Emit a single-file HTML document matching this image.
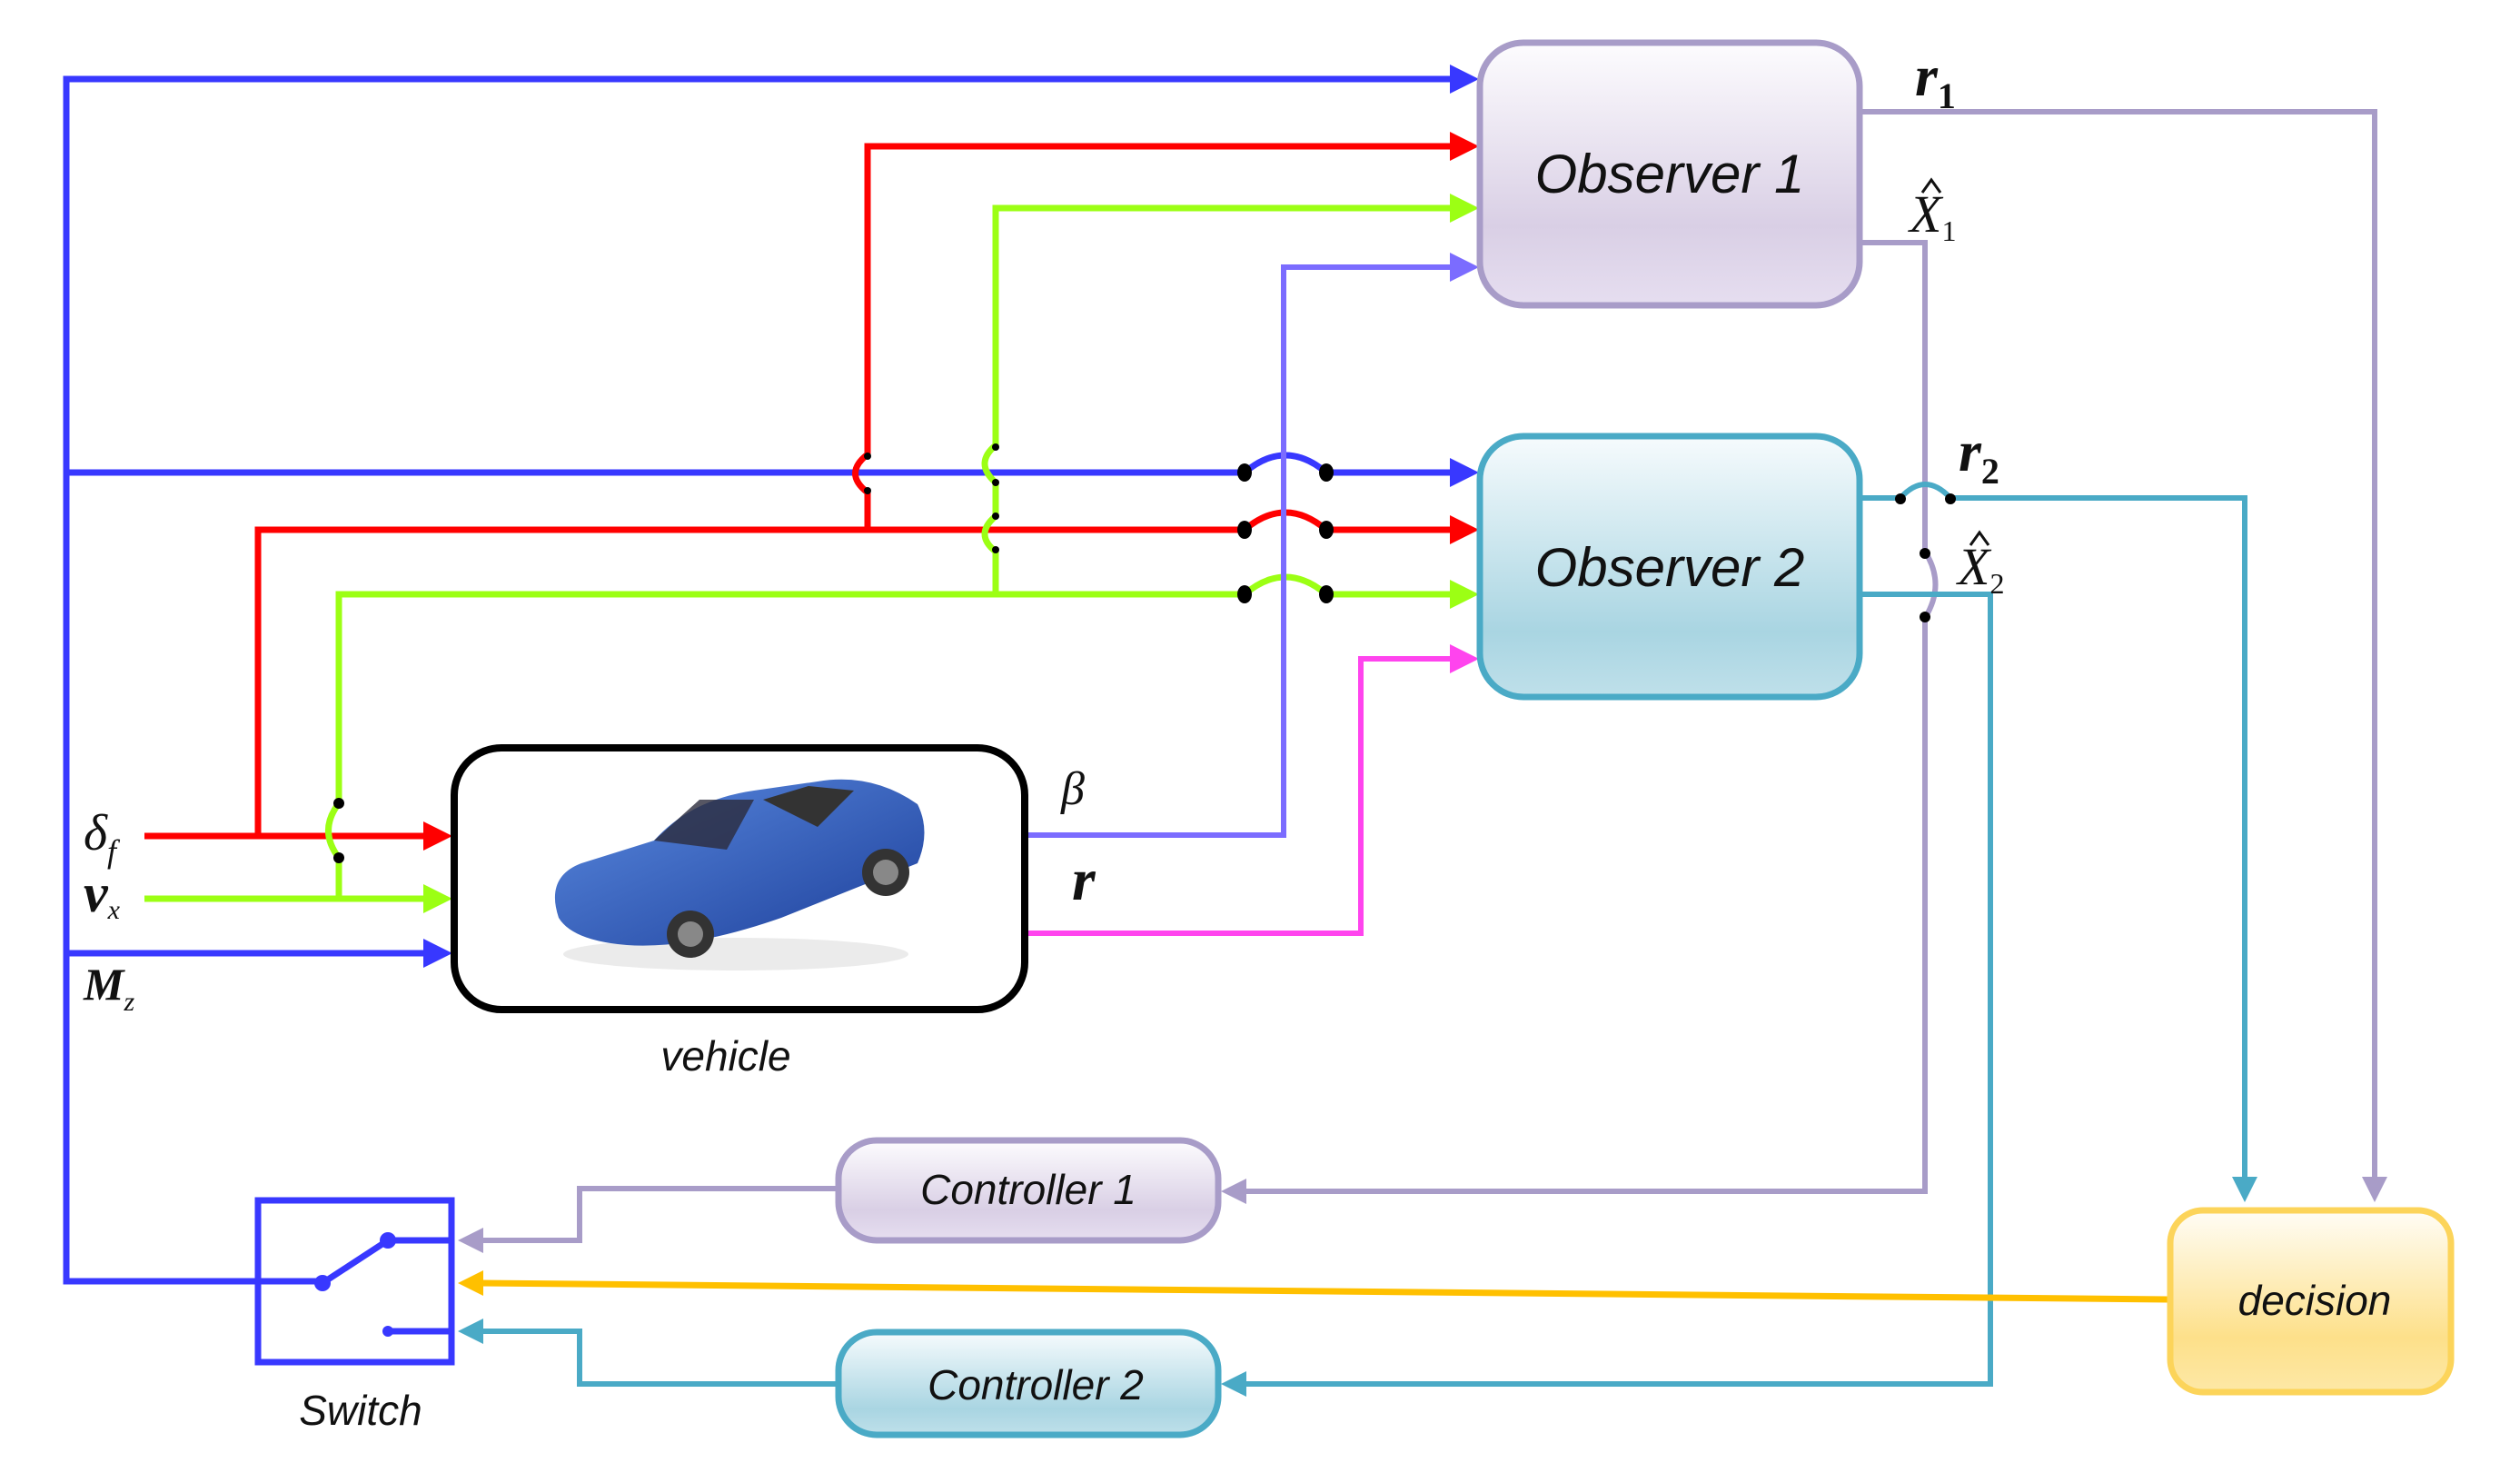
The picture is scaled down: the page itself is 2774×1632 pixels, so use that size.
<!DOCTYPE html>
<html><head><meta charset="utf-8"><style>
html,body{margin:0;padding:0;background:#fff;}
svg{display:block;}
.t{font-family:"Liberation Sans",sans-serif;font-style:italic;fill:#111;}
.m{font-family:"Liberation Serif",serif;font-style:italic;fill:#111;}
</style></head><body>
<svg width="2774" height="1632" viewBox="0 0 2774 1632" xmlns="http://www.w3.org/2000/svg">
<defs>
<linearGradient id="g1" x1="0" y1="0" x2="0" y2="1"><stop offset="0" stop-color="#fdfcfe"/><stop offset="0.7" stop-color="#d9cfe5"/><stop offset="1" stop-color="#e6def0"/></linearGradient>
<linearGradient id="g2" x1="0" y1="0" x2="0" y2="1"><stop offset="0" stop-color="#f6fbfd"/><stop offset="0.75" stop-color="#a9d5e2"/><stop offset="1" stop-color="#bfe0ea"/></linearGradient>
<linearGradient id="g3" x1="0" y1="0" x2="0" y2="1"><stop offset="0" stop-color="#fffdf6"/><stop offset="0.7" stop-color="#fde08a"/><stop offset="1" stop-color="#fde8a6"/></linearGradient>
<linearGradient id="car" x1="0" y1="0" x2="1" y2="1"><stop offset="0" stop-color="#5a8ae0"/><stop offset="1" stop-color="#1d3f9a"/></linearGradient>
</defs>

<g fill="none" stroke-linejoin="miter">
<path d="M1600 87 H73 V1410 H355" stroke="#3838ff" stroke-width="7"/>
<path d="M73 520 H1370 Q1415 482 1460 520 H1600" stroke="#3838ff" stroke-width="7"/>
<path d="M73 1049 H470" stroke="#3838ff" stroke-width="7"/>
<path d="M1600 161 H955 V500 Q928 521 955 542 V583" stroke="#ff0000" stroke-width="7"/>
<path d="M1370 583 H284 V920" stroke="#ff0000" stroke-width="7"/>
<path d="M1370 583 Q1415 545 1460 583 H1600" stroke="#ff0000" stroke-width="7"/>
<path d="M159 920 H470" stroke="#ff0000" stroke-width="7"/>
<path d="M1600 229 H1096 V490 Q1072 510 1096 531 V568 Q1072 588 1096 607 V654" stroke="#9cff14" stroke-width="7"/>
<path d="M1370 654 H373 V884 Q350 914 373 944 V989" stroke="#9cff14" stroke-width="7"/>
<path d="M1370 654 Q1415 616 1460 654 H1600" stroke="#9cff14" stroke-width="7"/>
<path d="M159 989 H470" stroke="#9cff14" stroke-width="7"/>
<path d="M1132 919 H1413 V294 H1600" stroke="#7b6cff" stroke-width="6"/>
<path d="M1132 1027 H1498 V725 H1600" stroke="#ff44ee" stroke-width="6"/>
<path d="M2050 123 H2614 V1300" stroke="#a89cc8" stroke-width="6"/>
<path d="M2050 267 H2119 V607 Q2142 643 2119 680 V1311 H1368" stroke="#a89cc8" stroke-width="6"/>
<path d="M920 1308 H638 V1365 H528" stroke="#a89cc8" stroke-width="6"/>
<path d="M2050 548 H2092 Q2119 518 2147 548 H2471 V1300" stroke="#4aaac6" stroke-width="6"/>
<path d="M2050 654 H2191 V1523 H1368" stroke="#4aaac6" stroke-width="6"/>
<path d="M920 1523 H638 V1465 H528" stroke="#4aaac6" stroke-width="6"/>
<path d="M2386 1430 L528 1412" stroke="#ffc000" stroke-width="7"/>
</g>

<g>
<polygon points="1628,87 1596,71 1596,103" fill="#3838ff"/>
<polygon points="1628,161 1596,145 1596,177" fill="#ff0000"/>
<polygon points="1628,229 1596,213 1596,245" fill="#9cff14"/>
<polygon points="1628,294 1596,278 1596,310" fill="#7b6cff"/>
<polygon points="1628,520 1596,504 1596,536" fill="#3838ff"/>
<polygon points="1628,583 1596,567 1596,599" fill="#ff0000"/>
<polygon points="1628,654 1596,638 1596,670" fill="#9cff14"/>
<polygon points="1628,725 1596,709 1596,741" fill="#ff44ee"/>
<polygon points="498,920 466,904 466,936" fill="#ff0000"/>
<polygon points="498,989 466,973 466,1005" fill="#9cff14"/>
<polygon points="498,1049 466,1033 466,1065" fill="#3838ff"/>
<polygon points="2614,1323 2600,1295 2628,1295" fill="#a89cc8"/>
<polygon points="2471,1323 2457,1295 2485,1295" fill="#4aaac6"/>
<polygon points="1344,1311 1372,1297 1372,1325" fill="#a89cc8"/>
<polygon points="1344,1523 1372,1509 1372,1537" fill="#4aaac6"/>
<polygon points="504,1365 532,1351 532,1379" fill="#a89cc8"/>
<polygon points="504,1465 532,1451 532,1479" fill="#4aaac6"/>
<polygon points="504,1412 532,1398 532,1426" fill="#ffc000"/>
</g>

<g fill="#000">
<ellipse cx="1370" cy="520" rx="8" ry="10"/><ellipse cx="1460" cy="520" rx="8" ry="10"/>
<ellipse cx="1370" cy="583" rx="8" ry="10"/><ellipse cx="1460" cy="583" rx="8" ry="10"/>
<ellipse cx="1370" cy="654" rx="8" ry="10"/><ellipse cx="1460" cy="654" rx="8" ry="10"/>
<circle cx="955" cy="502" r="4"/><circle cx="955" cy="540" r="4"/>
<circle cx="1096" cy="492" r="4"/><circle cx="1096" cy="531" r="4"/>
<circle cx="1096" cy="568" r="4"/><circle cx="1096" cy="605" r="4"/>
<circle cx="373" cy="884" r="6"/><circle cx="373" cy="944" r="6"/>
<circle cx="2092" cy="549" r="6"/><circle cx="2147" cy="549" r="6"/>
<circle cx="2119" cy="609" r="6"/><circle cx="2119" cy="679" r="6"/>
</g>

<rect x="1629" y="47" width="418" height="289" rx="48" fill="url(#g1)" stroke="#a89cc8" stroke-width="7"/>
<text x="1838" y="212" class="t" font-size="60" text-anchor="middle">Observer 1</text>
<rect x="1629" y="480" width="418" height="287" rx="48" fill="url(#g2)" stroke="#4aaac6" stroke-width="7"/>
<text x="1838" y="645" class="t" font-size="60" text-anchor="middle">Observer 2</text>

<rect x="500" y="823" width="628" height="288" rx="52" fill="#fff" stroke="#000" stroke-width="8"/>
<g>
<ellipse cx="810" cy="1050" rx="190" ry="18" fill="#ddd" opacity="0.6"/>
<path d="M615 1010 Q600 965 640 950 L720 925 Q760 880 830 870 L900 860 Q960 850 1010 885 Q1025 915 1010 950 L860 1010 Q760 1045 690 1040 Q630 1035 615 1010 Z" fill="url(#car)"/>
<path d="M720 925 L770 880 L830 880 L800 935 Z" fill="#2c2c3c" opacity="0.8"/>
<path d="M840 880 L890 865 L940 870 L900 910 Z" fill="#333"/>
<circle cx="760" cy="1028" r="26" fill="#333"/><circle cx="760" cy="1028" r="14" fill="#888"/>
<circle cx="975" cy="960" r="26" fill="#333"/><circle cx="975" cy="960" r="14" fill="#888"/>
</g>
<text x="799" y="1178" class="t" font-size="46" text-anchor="middle">vehicle</text>

<rect x="923" y="1255" width="418" height="110" rx="42" fill="url(#g1)" stroke="#a89cc8" stroke-width="7"/>
<text x="1132" y="1325" class="t" font-size="46" text-anchor="middle">Controller 1</text>
<rect x="923" y="1466" width="418" height="113" rx="42" fill="url(#g2)" stroke="#4aaac6" stroke-width="7"/>
<text x="1140" y="1540" class="t" font-size="46" text-anchor="middle">Controller 2</text>

<rect x="2389" y="1332" width="309" height="200" rx="36" fill="url(#g3)" stroke="#fcd45a" stroke-width="7"/>
<text x="2548" y="1447" class="t" font-size="46" text-anchor="middle">decision</text>

<rect x="284" y="1321" width="213" height="178" fill="none" stroke="#3838ff" stroke-width="7"/>
<path d="M355 1412 L427 1365 H497 M427 1465 H497" fill="none" stroke="#3838ff" stroke-width="7"/>
<circle cx="355" cy="1412" r="9" fill="#3838ff"/><circle cx="427" cy="1365" r="9" fill="#3838ff"/><circle cx="427" cy="1465" r="6" fill="#3838ff"/>
<text x="397" y="1568" class="t" font-size="46" text-anchor="middle">Switch</text>

<text x="2108" y="105" class="m" font-size="64" font-weight="bold">r<tspan font-size="40" font-style="normal" dy="14">1</tspan></text>
<text x="2102" y="255" class="m" font-size="58">X<tspan font-size="32" font-style="normal" dy="10">1</tspan></text>
<path d="M2116 212 L2126 198 L2136 212" fill="none" stroke="#111" stroke-width="3"/>
<text x="2156" y="518" class="m" font-size="64" font-weight="bold">r<tspan font-size="40" font-style="normal" dy="14">2</tspan></text>
<text x="2155" y="643" class="m" font-size="58">X<tspan font-size="32" font-style="normal" dy="10">2</tspan></text>
<path d="M2169 600 L2179 586 L2189 600" fill="none" stroke="#111" stroke-width="3"/>
<text x="92" y="935" class="m" font-size="56">δ<tspan font-size="36" dy="14">f</tspan></text>
<text x="92" y="1003" class="m" font-size="60" font-weight="bold">v<tspan font-size="30" font-weight="normal" dy="8">x</tspan></text>
<text x="92" y="1100" class="m" font-size="50" font-weight="bold">M<tspan font-size="30" font-weight="normal" dy="12">z</tspan></text>
<text x="1168" y="885" class="m" font-size="52">β</text>
<text x="1180" y="990" class="m" font-size="66" font-weight="bold">r</text>
</svg>
</body></html>
